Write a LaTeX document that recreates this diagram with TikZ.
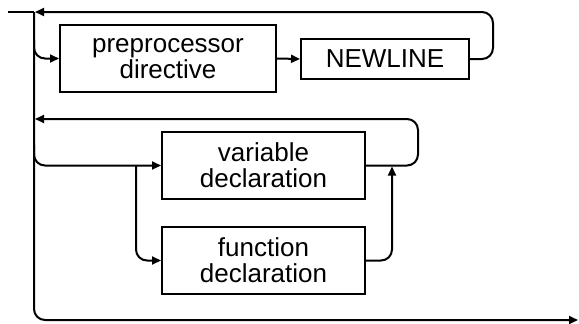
\documentclass[tikz,border=0pt]{standalone}
\usepackage{fontspec}
\setmainfont{Liberation Sans}
\usetikzlibrary{arrows.meta}
\begin{document}
\begin{tikzpicture}[x=1pt,y=-1pt,line width=2pt,
  box/.style={draw,rectangle,inner sep=0pt,align=center,font=\fontsize{26}{26}\selectfont},
  arr/.style={-{Triangle[length=9pt,width=8pt]}},
  rc/.style={rounded corners=11pt}]
\useasboundingbox (0,0) rectangle (579,324);
\node[box,minimum width=216pt,minimum height=67pt] (pp) at (168,58.5) {preprocessor\\directive};
\node[box,minimum width=168pt,minimum height=40pt] (nl) at (385,59) {NEWLINE};
\node[box,minimum width=203pt,minimum height=67pt] (vd) at (263.5,165.5) {variable\\declaration};
\node[box,minimum width=203pt,minimum height=67pt] (fd) at (263.5,260.5) {function\\declaration};
\coordinate (start) at (8,12);
\coordinate (top) at (34,12);
\coordinate (bot) at (34,320);
\coordinate (end) at (578,320);
\coordinate (j1) at (34,40);
\coordinate (j2) at (34,145);
\coordinate (j3) at (136,165.5);
\coordinate (r1) at (493,12);
\coordinate (r2) at (418,119);
\coordinate (t1) at (35,12);
\coordinate (t2) at (35,119);
\coordinate (up) at (392,166.5);
% main line
\draw (start) -- (top);
\draw[arr,rc] (top) -- (bot) -- (end);
% to preprocessor
\draw[arr,rc] (j1) |- (pp.west);
\draw[arr] (pp.east) -- (nl.west);
\draw[arr,rc] (nl.east) -| (r1) -- (t1);
% declarations
\draw[arr,rc] (j2) |- (vd.west);
\draw[arr,rc] (j3) |- (fd.west);
\draw[arr,rc] (vd.east) -| (r2) -- (t2);
\draw[arr,rc] (fd.east) -| (up);
\end{tikzpicture}
\end{document}
